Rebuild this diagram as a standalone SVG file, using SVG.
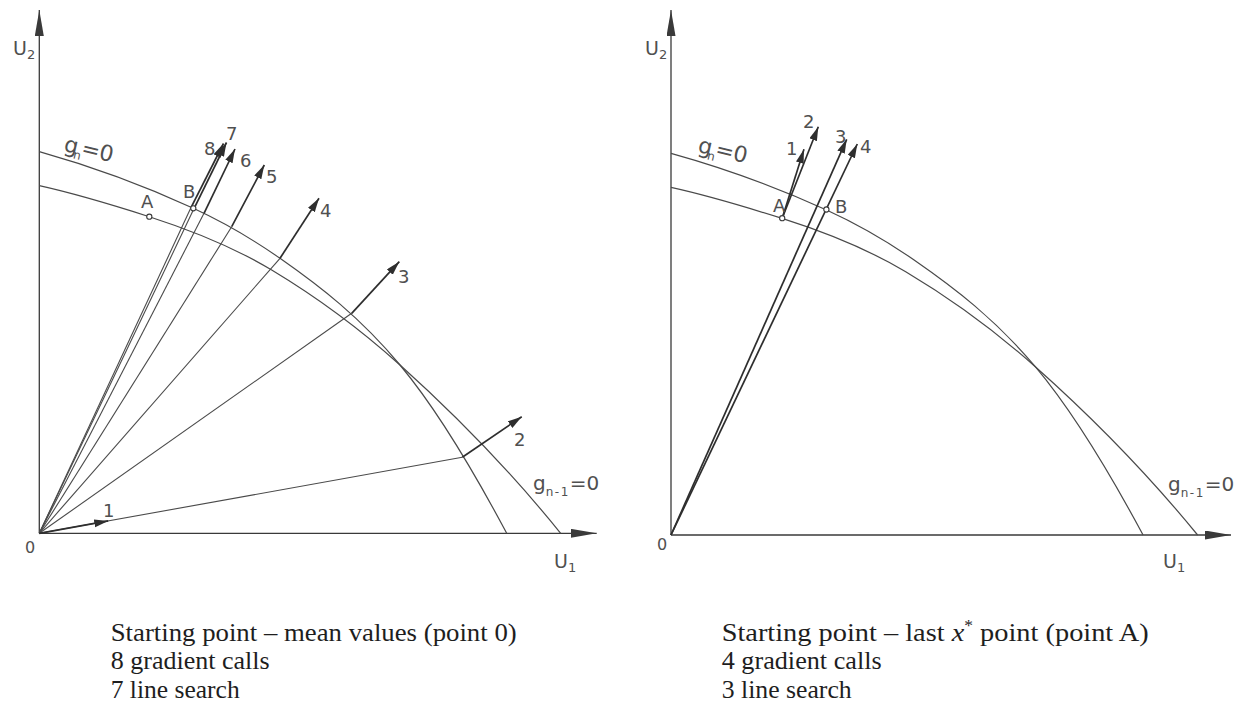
<svg xmlns="http://www.w3.org/2000/svg" width="1247" height="703" viewBox="0 0 1247 703">
<style>
.ax{stroke:#3a3a3a;stroke-width:1.3;fill:none}
.cv{stroke:#4a4a4a;stroke-width:1.2;fill:none}
.ray{stroke:#4a4a4a;stroke-width:1.1;fill:none}
.arr{stroke:#2e2e2e;stroke-width:1.7;fill:none;marker-end:url(#ah)}
.lbl{font-family:"DejaVu Sans",sans-serif;fill:#505050;font-size:18px}
.big{font-size:20px}
.gn{font-size:22px}
.sub{font-size:12px}
.cap{font-family:"Liberation Serif",serif;font-size:26px;fill:#1e1e1e}
.pt{fill:#fff;stroke:#3a3a3a;stroke-width:1.1}
</style>
<defs>
<marker id="ah" markerUnits="userSpaceOnUse" markerWidth="15" markerHeight="9" refX="14" refY="4" orient="auto"><path d="M0,0 L14,4 L0,8 Z" fill="#2e2e2e"/></marker>
<marker id="axh" markerUnits="userSpaceOnUse" markerWidth="27" markerHeight="10" refX="26" refY="4.5" orient="auto"><path d="M0,0 L26,4.5 L0,9 Z" fill="#3a3a3a"/></marker>
<path id="gn" class="cv" d="M0,-381.6 C51.3,-367.2 102.7,-348.6 154,-325 C182.9,-311.7 211.8,-295.2 240.7,-275 C280.7,-247 320.7,-216.3 360.7,-168.3 C396.3,-125.6 431.8,-66.9 467.4,0"/>
<path id="gn1" class="cv" d="M0,-347.6 C36.7,-339.5 73.3,-328.3 110,-316.6 C150.8,-303.5 191.6,-287.8 232.4,-263.3 C275.2,-237.6 317.9,-206.8 360.7,-168.3 C414.3,-120.1 467.8,-66.3 521.4,0"/>
</defs>
<rect width="1247" height="703" fill="#ffffff"/>

<g id="plot-left">
  <g id="left-axes">
    <line class="ax" x1="39.3" y1="533.3" x2="39.3" y2="10" marker-end="url(#axh)"/>
    <line class="ax" x1="39.3" y1="533.3" x2="596.7" y2="533.3" marker-end="url(#axh)"/>
  </g>
  <g id="left-curves">
    <use href="#gn" transform="translate(39.3,533.3)"/>
    <use href="#gn1" transform="translate(39.3,533.3)"/>
  </g>
  <g id="left-connectors">
    <path class="ray" d="M39.3,533.3 L462.3,457.3"/>
    <path class="ray" d="M39.3,533.3 L351.7,313.3"/>
    <path class="ray" d="M39.3,533.3 L280,258.3"/>
    <path class="ray" d="M39.3,533.3 L231.7,226.7"/>
    <path class="ray" d="M39.3,533.3 L204,213.3"/>
    <path class="ray" d="M39.3,533.3 L194,208.6"/>
    <path class="ray" d="M39.3,533.3 L191,207.6"/>
    <path class="arr" d="M39.3,533.3 L108.2,520.9"/>
    <path class="arr" d="M462.3,457.3 L521.7,416.7"/>
    <path class="arr" d="M351.7,313.3 L399.3,261.7"/>
    <path class="arr" d="M280,258.3 L319,198.3"/>
    <path class="arr" d="M231.7,226.7 L264.3,165"/>
    <path class="arr" d="M204,213.3 L235,149"/>
    <path class="arr" d="M194,208.6 L226.5,142.5"/>
    <path class="arr" d="M191,207.6 L223.5,143.5"/>
  </g>
  <g id="left-points">
    <circle class="pt" cx="149.3" cy="216.7" r="2.6"/>
    <circle class="pt" cx="193.3" cy="208.3" r="2.6"/>
  </g>
  <g id="left-labels" class="lbl">
    <text x="13" y="55" font-size="19">U<tspan font-size="13" dy="4">2</tspan></text>
    <text x="554" y="568" font-size="19">U<tspan font-size="13" dy="4">1</tspan></text>
    <text x="25" y="553" font-size="16">0</text>
    <text x="63" y="151" class="gn" transform="rotate(13 63 151)">g<tspan class="sub" dx="-3" dy="5">n</tspan><tspan dx="-1" dy="-5">=0</tspan></text>
    <text x="533" y="490" class="big">g<tspan class="sub" dy="6" letter-spacing="1.5">n-1</tspan><tspan dy="-6">=0</tspan></text>
    <text x="103" y="517">1</text>
    <text x="514" y="446">2</text>
    <text x="398" y="283">3</text>
    <text x="320" y="217">4</text>
    <text x="266" y="183">5</text>
    <text x="240" y="167">6</text>
    <text x="226" y="140">7</text>
    <text x="204" y="155">8</text>
    <text x="141" y="208">A</text>
    <text x="183" y="198">B</text>
  </g>
  <g id="left-caption" class="cap">
    <text x="110.7" y="641" textLength="406" lengthAdjust="spacingAndGlyphs">Starting point – mean values (point 0)</text>
    <text x="110.7" y="669" textLength="159" lengthAdjust="spacingAndGlyphs">8 gradient calls</text>
    <text x="110.7" y="698" textLength="129" lengthAdjust="spacingAndGlyphs">7 line search</text>
  </g>
</g>

<g id="plot-right">
  <g id="right-axes">
    <line class="ax" x1="671" y1="535" x2="671" y2="10" marker-end="url(#axh)"/>
    <line class="ax" x1="671" y1="535" x2="1231" y2="535" marker-end="url(#axh)"/>
  </g>
  <g id="right-curves">
    <use href="#gn" transform="translate(671,535) scale(1.01,1)"/>
    <use href="#gn1" transform="translate(671,535) scale(1.01,1)"/>
  </g>
  <g id="right-connectors">
    <path class="arr" d="M782.2,218.2 L804,149.3"/>
    <path class="arr" d="M782.2,218.2 L818.3,126.7"/>
    <path class="arr" d="M671,535 L846.7,139.3"/>
    <path class="arr" d="M671,535 L857.3,144"/>
  </g>
  <g id="right-points">
    <circle class="pt" cx="782.2" cy="218.2" r="2.6"/>
    <circle class="pt" cx="826.4" cy="209.5" r="2.6"/>
  </g>
  <g id="right-labels" class="lbl">
    <text x="645" y="55" font-size="19">U<tspan font-size="13" dy="4">2</tspan></text>
    <text x="1163" y="568" font-size="19">U<tspan font-size="13" dy="4">1</tspan></text>
    <text x="657" y="550" font-size="16">0</text>
    <text x="697" y="152" class="gn" transform="rotate(13 697 152)">g<tspan class="sub" dx="-3" dy="5">n</tspan><tspan dx="-1" dy="-5">=0</tspan></text>
    <text x="1168" y="491" class="big">g<tspan class="sub" dy="6" letter-spacing="1.5">n-1</tspan><tspan dy="-6">=0</tspan></text>
    <text x="786" y="155">1</text>
    <text x="803" y="128">2</text>
    <text x="835" y="143">3</text>
    <text x="860" y="153">4</text>
    <text x="773" y="212">A</text>
    <text x="835" y="213">B</text>
  </g>
  <g id="right-caption" class="cap">
    <text x="721.7" y="641" textLength="427" lengthAdjust="spacingAndGlyphs">Starting point – last <tspan font-style="italic">x</tspan><tspan font-size="16" dy="-10">*</tspan><tspan dy="10"> point (point A)</tspan></text>
    <text x="721.7" y="669" textLength="160" lengthAdjust="spacingAndGlyphs">4 gradient calls</text>
    <text x="721.7" y="698" textLength="130" lengthAdjust="spacingAndGlyphs">3 line search</text>
  </g>
</g>
</svg>
